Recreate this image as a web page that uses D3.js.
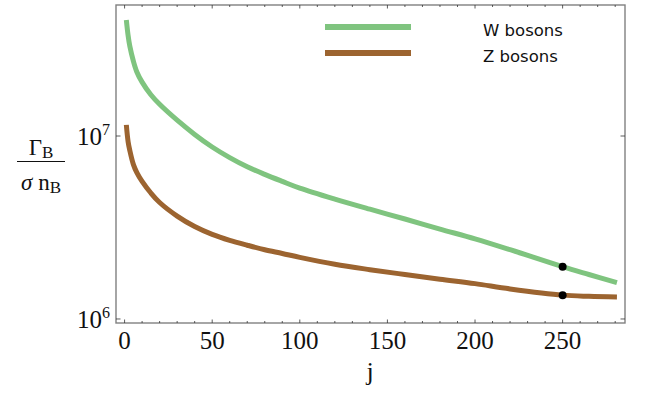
<!DOCTYPE html>
<html>
<head>
<meta charset="utf-8">
<script src="https://cdn.jsdelivr.net/npm/d3@7"></script>
<style>
  body { margin: 0; background: #fff; }
  .tick-label { font-family: "Liberation Serif", "Times New Roman", serif; fill: #111; }
  .legend text { font-family: "DejaVu Sans", Verdana, sans-serif; font-size: 16.5px; fill: #111; }
</style>
</head>
<body>
<div id="graph"></div>
<script>
// j values sampled along the curves
var jValues = [1, 2, 3, 5, 7, 10, 15, 20, 30, 40, 50, 60, 70, 80, 90, 100,
               120, 140, 160, 180, 200, 220, 250, 265, 281];
// Gamma_B / (sigma n_B), W bosons
var wRates = [4.31e7, 3.55e7, 3.09e7, 2.57e7, 2.24e7, 1.97e7, 1.68e7, 1.49e7, 1.22e7, 1.02e7,
              8.71e6, 7.62e6, 6.79e6, 6.17e6, 5.65e6, 5.19e6,
              4.52e6, 3.98e6, 3.52e6, 3.10e6, 2.74e6, 2.39e6, 1.93e6, 1.75e6, 1.58e6];
// same for Z bosons
var zRates = [1.15e7, 9.33e6, 8.32e6, 7.00e6, 6.31e6, 5.65e6, 4.88e6, 4.33e6, 3.65e6, 3.20e6,
              2.90e6, 2.69e6, 2.53e6, 2.39e6, 2.28e6, 2.17e6,
              1.99e6, 1.86e6, 1.75e6, 1.65e6, 1.56e6, 1.46e6, 1.35e6, 1.33e6, 1.32e6];
// marked points
var markJ = [250, 250];
var markRate = [1.93e6, 1.35e6];

var xTicks = [0, 50, 100, 150, 200, 250];
var yTicks = [1e6, 1e7];
var yTickExp = ["6", "7"];
var legendNames = ["W bosons", "Z bosons"];
var colors = ["#7fc47f", "#9c6430"];

var W = 654, H = 393;
var margin = {top: 5, right: 29, bottom: 70, left: 116},
    width = W - margin.left - margin.right,
    height = H - margin.top - margin.bottom;

var svg = d3.select("#graph").append("svg")
  .attr("width", W)
  .attr("height", H);

var g = svg.append("g")
  .attr("transform", "translate(" + margin.left + "," + margin.top + ")");

var x = d3.scaleLinear().domain([-4.9, 285.6]).range([0, width]);
var y = d3.scaleLog().domain([Math.pow(10, 5.978), Math.pow(10, 7.716)]).range([height, 0]);

// curves
var line = d3.line()
  .x(function(d) { return x(d[0]); })
  .y(function(d) { return y(d[1]); })
  .curve(d3.curveCatmullRom.alpha(0.5));

[wRates, zRates].forEach(function(series, i) {
  g.append("path")
    .datum(jValues.map(function(j, k) { return [j, series[k]]; }))
    .attr("fill", "none")
    .attr("stroke", colors[i])
    .attr("stroke-width", 5)
    .attr("d", line);
});

g.selectAll("circle.mark")
  .data(markJ)
  .enter().append("circle")
  .attr("class", "mark")
  .attr("cx", function(d) { return x(d); })
  .attr("cy", function(d, i) { return y(markRate[i]); })
  .attr("r", 4)
  .attr("fill", "#000");

// frame
g.append("rect")
  .attr("width", width)
  .attr("height", height)
  .attr("fill", "none")
  .attr("stroke", "#808080")
  .attr("stroke-width", 1.4);

// ticks on bottom and top
var minor = d3.range(0, 281, 10);
[height, 0].forEach(function(y0) {
  var dir = y0 === 0 ? 1 : -1;
  g.selectAll(null)
    .data(minor)
    .enter().append("line")
    .attr("x1", function(d) { return x(d); })
    .attr("x2", function(d) { return x(d); })
    .attr("y1", y0)
    .attr("y2", function(d) { return y0 + dir * (d % 50 === 0 ? 3.5 : 2); })
    .attr("stroke", "#333")
    .attr("stroke-width", 0.8);
});

// y ticks on both sides
[0, width].forEach(function(x0) {
  var dir = x0 === 0 ? 1 : -1;
  g.selectAll(null)
    .data(yTicks)
    .enter().append("line")
    .attr("x1", x0)
    .attr("x2", x0 + dir * 4.5)
    .attr("y1", function(d) { return y(d); })
    .attr("y2", function(d) { return y(d); })
    .attr("stroke", "#333")
    .attr("stroke-width", 0.8);
});

// x tick labels
g.selectAll("text.xlab")
  .data(xTicks)
  .enter().append("text")
  .attr("class", "tick-label")
  .attr("x", function(d) { return x(d); })
  .attr("y", height + 26)
  .attr("text-anchor", "middle")
  .style("font-size", "25px")
  .text(function(d) { return d; });

// y tick labels, 10 with superscript
var ylab = g.selectAll("text.ylab")
  .data(yTicks)
  .enter().append("text")
  .attr("class", "tick-label")
  .attr("x", -6)
  .attr("y", function(d) { return y(d) + 9; })
  .attr("text-anchor", "end")
  .style("font-size", "25px");
ylab.append("tspan").text("10");
ylab.append("tspan")
  .attr("dy", -10)
  .style("font-size", "16px")
  .text(function(d, i) { return yTickExp[i]; });

// axis titles
svg.append("text")
  .attr("class", "tick-label")
  .attr("x", 370)
  .attr("y", 380)
  .attr("text-anchor", "middle")
  .style("font-size", "26px")
  .text("j");

var num = svg.append("text")
  .attr("class", "tick-label")
  .attr("x", 41)
  .attr("y", 155)
  .attr("text-anchor", "middle")
  .style("font-size", "23px");
num.append("tspan").text("Γ");
num.append("tspan").attr("dy", 3).style("font-size", "17px").text("B");

svg.append("line")
  .attr("x1", 17).attr("x2", 65)
  .attr("y1", 161.5).attr("y2", 161.5)
  .attr("stroke", "#111")
  .attr("stroke-width", 1.2);

var den = svg.append("text")
  .attr("class", "tick-label")
  .attr("x", 41)
  .attr("y", 190)
  .attr("text-anchor", "middle")
  .style("font-size", "23px");
den.append("tspan").style("font-style", "italic").text("σ");
den.append("tspan").text(" n");
den.append("tspan").attr("dy", 3).style("font-size", "17px").text("B");

// legend
var legend = svg.append("g").attr("class", "legend");
legendNames.forEach(function(name, i) {
  var ly = 27 + i * 26;
  legend.append("line")
    .attr("x1", 325).attr("x2", 411)
    .attr("y1", ly).attr("y2", ly)
    .attr("stroke", colors[i])
    .attr("stroke-width", 6);
  legend.append("text")
    .attr("x", 483)
    .attr("y", ly + 9)
    .text(name);
});
</script>
</body>
</html>
